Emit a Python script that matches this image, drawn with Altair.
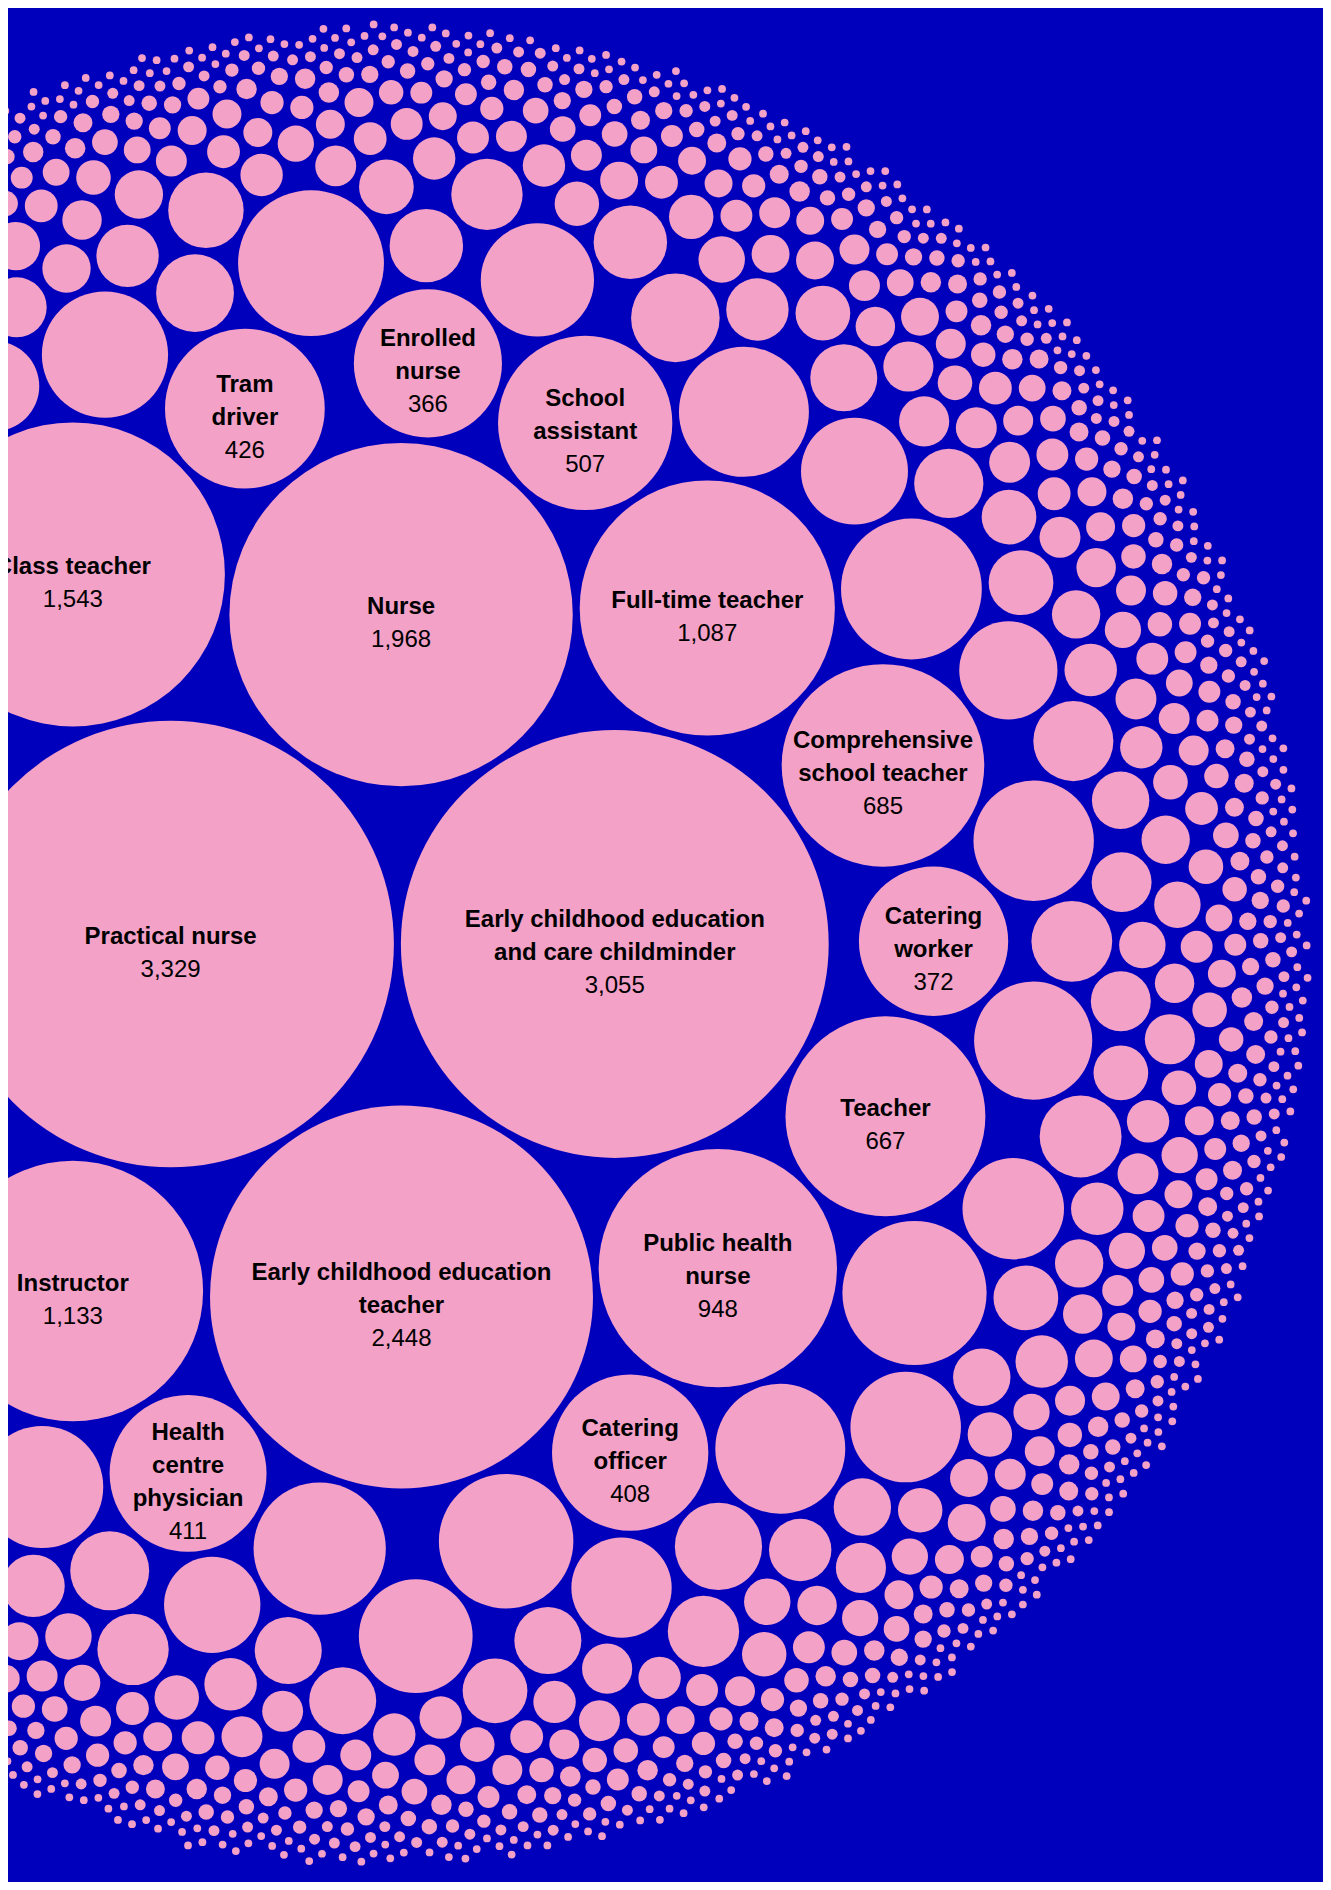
import math
import altair as alt
import pandas as pd

# ---------------- data (read / estimated from the picture) ----------------
label_lines = [
    ["Practical nurse"],
    ["Early childhood education", "and care childminder"],
    ["Early childhood education", "teacher"],
    ["Nurse"],
    ["Class teacher"],
    ["Instructor"],
    ["Full-time teacher"],
    ["Public health", "nurse"],
    ["Comprehensive", "school teacher"],
    ["Teacher"],
    ["School", "assistant"],
    ["Tram", "driver"],
    ["Health", "centre", "physician"],
    ["Catering", "officer"],
    ["Catering", "worker"],
    ["Enrolled", "nurse"],
]
label_values = [3329, 3055, 2448, 1968, 1543, 1133, 1087, 948,
                685, 667, 507, 426, 411, 408, 372, 366]

# circles lying outside the visible crop (estimated)
hidden_values = [800, 676, 395]

# unlabeled medium circles (estimated from their size)
other_values = [355, 347, 331, 327, 302, 292, 285, 282, 282, 266, 249,
                242, 242, 233, 216, 216, 214, 204, 191, 186, 172, 168,
                161, 155, 150, 146, 139, 135, 131, 127, 124, 120, 116,
                112, 109, 107, 104, 101]

# small circles: estimated value and how many circles of about that value
tail_values = [95, 90, 85, 80, 75, 70, 65, 60, 55, 50, 46, 42, 39, 36, 33,
               30, 28, 26, 24, 22, 20, 18, 17, 16, 15, 14, 13, 12, 11, 10,
               9, 8, 7, 6, 5, 4, 3, 2, 1]
tail_counts = [2, 3, 3, 3, 4, 4, 5, 5, 6, 7, 7, 8, 8, 9, 10,
               11, 11, 12, 12, 13, 14, 15, 15, 16, 16, 18, 18, 19, 19, 24,
               27, 31, 35, 48, 60, 80, 120, 200, 550]

# ---------------- layout settings ----------------
W, H = 1315, 1874          # plot area (page minus 8px margins)
K = 3.87                   # px per sqrt(value)
PAD = 3.5                  # half gap between circles
OX, OY = 380.0, 936.0      # where the packing origin lands
BLUE = "#0000BC"
PINK = "#F4A1C7"
FONT = "Liberation Sans"
FS = 24
LH = 33

# ---------------- d3.packSiblings port ----------------
class Node:
    __slots__ = ("c", "next", "prev")

    def __init__(self, c):
        self.c = c
        self.next = None
        self.prev = None


def place(b, a, c):
    dx = b[0] - a[0]
    dy = b[1] - a[1]
    d2 = dx * dx + dy * dy
    if d2:
        a2 = (a[2] + c[2]) ** 2
        b2 = (b[2] + c[2]) ** 2
        if a2 > b2:
            x = (d2 + b2 - a2) / (2 * d2)
            y = math.sqrt(max(0.0, b2 / d2 - x * x))
            c[0] = b[0] - x * dx - y * dy
            c[1] = b[1] - x * dy + y * dx
        else:
            x = (d2 + a2 - b2) / (2 * d2)
            y = math.sqrt(max(0.0, a2 / d2 - x * x))
            c[0] = a[0] + x * dx - y * dy
            c[1] = a[1] + x * dy + y * dx
    else:
        c[0] = a[0] + c[2]
        c[1] = a[1]


def intersects(a, b):
    dr = a[2] + b[2] - 1e-6
    dx = b[0] - a[0]
    dy = b[1] - a[1]
    return dr > 0 and dr * dr > dx * dx + dy * dy


def score(node):
    a = node.c
    b = node.next.c
    ab = a[2] + b[2]
    dx = (a[0] * b[2] + b[0] * a[2]) / ab
    dy = (a[1] * b[2] + b[1] * a[2]) / ab
    return dx * dx + dy * dy


def pack_siblings(circles):
    n = len(circles)
    a = circles[0]
    a[0], a[1] = 0.0, 0.0
    b = circles[1]
    a[0] = -b[2]
    b[0] = a[2]
    b[1] = 0.0
    c = circles[2]
    place(b, a, c)
    a, b, c = Node(a), Node(b), Node(c)
    a.next = c.prev = b
    b.next = a.prev = c
    c.next = b.prev = a
    i = 3
    while i < n:
        cc = circles[i]
        place(a.c, b.c, cc)
        c = Node(cc)
        j, k = b.next, a.prev
        sj, sk = b.c[2], a.c[2]
        restart = False
        while True:
            if sj <= sk:
                if intersects(j.c, c.c):
                    b = j
                    a.next = b
                    b.prev = a
                    restart = True
                    break
                sj += j.c[2]
                j = j.next
            else:
                if intersects(k.c, c.c):
                    a = k
                    a.next = b
                    b.prev = a
                    restart = True
                    break
                sk += k.c[2]
                k = k.prev
            if j is k.next:
                break
        if restart:
            continue
        c.prev = a
        c.next = b
        a.next = c
        b.prev = c
        b = c
        aa = score(a)
        c = c.next
        while c is not b:
            ca = score(c)
            if ca < aa:
                a = c
                aa = ca
            c = c.next
        b = a.next
        i += 1


# ---------------- build circles ----------------
items = []
for idx, v in enumerate(label_values):
    items.append((v, idx))
for v in hidden_values + other_values:
    items.append((v, -1))
for v, cnt in zip(tail_values, tail_counts):
    for _ in range(cnt):
        items.append((v, -1))
items.sort(key=lambda t: -t[0])

circ = [[0.0, 0.0, K * math.sqrt(v) + PAD] for v, _ in items]
pack_siblings(circ)

rows = []
name_rows = []
value_rows = []
for (v, lab), c in zip(items, circ):
    r = K * math.sqrt(v)
    cx = OX + c[0]
    cy = OY + c[1]
    rows.append({"cx": cx, "cy": cy, "size": 4 * r * r, "value": v})
    if lab >= 0:
        lines = label_lines[lab]
        n = len(lines) + 1
        for li, t in enumerate(lines):
            name_rows.append({"cx": cx, "cy": cy + (li - (n - 1) / 2) * LH + 16, "t": t})
        value_rows.append({"cx": cx, "cy": cy + (n - 1 - (n - 1) / 2) * LH + 16,
                           "t": f"{v:,}"})

df = pd.DataFrame(rows)
ndf = pd.DataFrame(name_rows)
vdf = pd.DataFrame(value_rows)

xs = alt.Scale(domain=[0, W], nice=False, zero=False)
ys = alt.Scale(domain=[0, H], nice=False, zero=False, reverse=True)

circles = alt.Chart(df).mark_circle(color=PINK, opacity=1, clip=True, strokeWidth=0).encode(
    x=alt.X("cx:Q", scale=xs, axis=None),
    y=alt.Y("cy:Q", scale=ys, axis=None),
    size=alt.Size("size:Q", scale=None, legend=None),
)
names = alt.Chart(ndf).mark_text(font=FONT, fontSize=FS, fontWeight="bold", color="#000000",
                                 align="center", baseline="alphabetic", clip=True).encode(
    x=alt.X("cx:Q", scale=xs, axis=None),
    y=alt.Y("cy:Q", scale=ys, axis=None),
    text="t:N",
)
vals = alt.Chart(vdf).mark_text(font=FONT, fontSize=FS, fontWeight="normal", color="#000000",
                                align="center", baseline="alphabetic", clip=True).encode(
    x=alt.X("cx:Q", scale=xs, axis=None),
    y=alt.Y("cy:Q", scale=ys, axis=None),
    text="t:N",
)

chart = alt.layer(circles, names, vals).properties(
    width=W, height=H, background=BLUE, padding=0,
    autosize=alt.AutoSizeParams(type="none"),
).configure_view(strokeWidth=0)

chart.save("out.html", embed_options={"renderer": "svg", "actions": False})
